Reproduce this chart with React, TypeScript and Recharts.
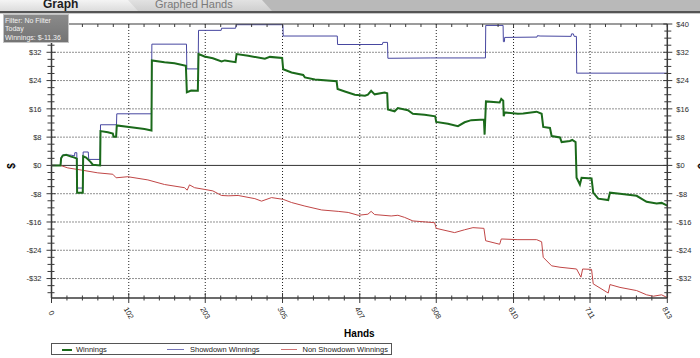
import React from 'react';
import { LineChart, Line, XAxis, YAxis, CartesianGrid, ReferenceLine } from 'recharts';

const FONT = '"Liberation Sans", Arial, Helvetica, sans-serif';

// ---- data (hands, cumulative $) ----
const winningsHands = [0, 11.9, 12.7, 14.9, 19.3, 25.9, 30.4, 33.4, 33.8, 41.3, 41.8, 45.7, 51.5, 54.5, 64.2, 64.7, 74.4, 81, 81.9, 85.3, 86.2, 105, 122.8, 132, 132.5, 149.2, 162.4, 177.4, 178.7, 184.4, 193.2, 194.1, 202, 213, 224.5, 228.9, 243, 244.3, 259.7, 281.7, 288.3, 304.5, 305.9, 316.9, 332.3, 334.5, 347.7, 376.4, 377.7, 387.3, 400.5, 413.8, 417.7, 422, 426.6, 439.8, 443.2, 444.1, 453, 457.3, 470.5, 477.1, 492.6, 506.6, 507.9, 523.4, 536.6, 545.4, 554.2, 570.9, 571.8, 573.6, 591.7, 593.8, 596.4, 597, 598.3, 615.8, 622.8, 640.5, 647.1, 649.2, 658.1, 660.3, 671.3, 673.5, 684.4, 687.5, 691.9, 693.2, 697.6, 699.8, 713, 715.2, 721.8, 735, 737.3, 750.5, 772.5, 785.7, 798.9, 805.5, 813];
const winningsValues = [0, 0, 2.0, 2.8, 3.0, 2.5, 2.2, 1.9, -7.7, -7.7, 2.6, 2.2, 1.0, 0.2, 0, 9.7, 9.4, 9.0, 8.1, 8.1, 11.3, 10.8, 10.3, 9.9, 29.7, 29.2, 28.9, 28.2, 20.7, 21.2, 21.1, 31.5, 30.8, 30.3, 29.4, 29.7, 29.2, 31.5, 31.0, 30.2, 30.7, 30.4, 27.2, 26.3, 25.6, 24.9, 24.3, 23.8, 21.6, 20.9, 20.0, 19.7, 20.0, 21.1, 20.1, 20.6, 20.4, 15.8, 15.3, 16.2, 15.6, 14.6, 14.3, 13.9, 12.3, 11.8, 11.1, 12.2, 12.8, 13.0, 8.7, 18.1, 17.8, 18.8, 18.3, 13.9, 15.0, 14.6, 14.7, 15.2, 14.6, 10.9, 10.6, 8.3, 7.9, 6.6, 6.9, 7.2, 6.6, -3.5, -5.4, -3.5, -3.7, -7.7, -9.4, -9.8, -7.7, -8.0, -8.6, -10.3, -10.8, -10.6, -11.36];

const showdownHands = [0, 11.9, 12.7, 14.9, 25.9, 30.4, 30.8, 33.4, 33.8, 41.3, 41.8, 48.5, 49.2, 64.2, 64.7, 85.8, 86.2, 132, 132.5, 178.2, 178.7, 193.6, 194.1, 224, 224.5, 243, 244, 305.5, 305.9, 377.3, 377.7, 436.8, 437.5, 443.6, 444.1, 500, 572.9, 573.3, 596.2, 596.6, 598, 598.3, 641, 641.5, 645, 686, 686.5, 689, 690, 693, 693.4, 813];
const showdownValues = [0, 0, 2.2, 3.0, 2.9, 2.7, 3.6, 3.6, -6.4, -6.4, 3.8, 3.8, 1.7, 1.7, 11.5, 11.5, 14.6, 14.6, 34.3, 34.3, 27.3, 27.3, 38.2, 38.2, 38.8, 38.8, 39.8, 39.8, 36.6, 36.6, 34.2, 34.2, 34.8, 34.8, 30.3, 30.4, 30.4, 39.6, 39.6, 35.0, 35.0, 36.2, 36.3, 36.7, 36.6, 36.5, 37.2, 37.2, 36.5, 36.5, 26.1, 26.1];

const nonShowdownHands = [0, 11.9, 21.5, 39.1, 61.1, 81, 85.3, 100.8, 127.2, 149.2, 175.6, 179.1, 182.2, 188.9, 202.5, 213, 224.5, 233.2, 246.4, 268.5, 277.3, 290.5, 305.9, 317, 334.5, 356.6, 378.5, 391.7, 404.9, 417.7, 422, 426.6, 448.5, 457.3, 466.2, 477.1, 505.8, 507.9, 532.2, 545.4, 556.4, 570.9, 573.2, 591.7, 593.8, 615.8, 640.5, 647.1, 649.2, 660.3, 671.3, 693.2, 699, 701.2, 713, 715.2, 735, 737.3, 750.5, 772.5, 785.7, 794.5, 805.5, 813];
const nonShowdownValues = [0, 0, -0.7, -1.3, -2.1, -2.5, -3.5, -3.2, -4.1, -5.4, -6.3, -7.0, -5.5, -6.3, -6.8, -7.2, -8.5, -8.6, -8.5, -9.4, -10.1, -9.1, -9.6, -10.5, -11.5, -12.6, -13.0, -13.3, -14.1, -13.8, -13.0, -13.9, -14.3, -14.1, -14.7, -15.7, -16.2, -17.8, -19.0, -18.2, -17.6, -17.8, -21.3, -22.3, -20.8, -21.0, -21.0, -21.6, -26.0, -28.4, -28.8, -29.3, -31.6, -29.3, -29.4, -33.5, -36.1, -33.7, -34.5, -35.4, -36.6, -37.0, -36.6, -37.4];

const xMajorTicks = [0, 102, 203, 305, 407, 508, 610, 711, 813];
const xTickLabels = ['0', '102', '203', '305', '407', '508', '610', '711', '813'];
const yMajorTicks = [-32, -24, -16, -8, 0, 8, 16, 24, 32, 40];
const yTickLabels = ['-$32', '-$24', '-$16', '-$8', '$0', '$8', '$16', '$24', '$32', '$40'];
const yMinorStep = 2;
const yDomain: [number, number] = [-37.5, 40];
const xDomain: [number, number] = [0, 813];

const seriesNames = ['Winnings', 'Showdown Winnings', 'Non Showdown Winnings'];
const seriesColors = ['#1b6a1b', '#4747a0', '#c04646'];

const filterLines = ['Filter: No Filter', 'Today', 'Winnings: $-11.36'];
const tabLabels = ['Graph', 'Graphed Hands'];

// ---- derived ----
const toData = (hs: number[], vs: number[]) => hs.map((h, i) => ({ h, v: vs[i] }));
const winningsData = toData(winningsHands, winningsValues);
const showdownData = toData(showdownHands, showdownValues);
const nonShowdownData = toData(nonShowdownHands, nonShowdownValues);

const xAllTicks: number[] = [];
for (let i = 0; i < xMajorTicks.length - 1; i++) {
  for (let k = 0; k < 5; k++) {
    xAllTicks.push(xMajorTicks[i] + ((xMajorTicks[i + 1] - xMajorTicks[i]) * k) / 5);
  }
}
xAllTicks.push(xMajorTicks[xMajorTicks.length - 1]);

const yAllTicks: number[] = [];
for (let v = -36; v <= 40; v += yMinorStep) yAllTicks.push(v);

const AXIS = '#3a3a3a';
const TXT = '#2a2a2a';

const LeftYTick = (props: any) => {
  const { x, y, payload } = props;
  const idx = yMajorTicks.indexOf(payload.value);
  const major = idx >= 0;
  // the top label on the left side sits under the filter box in the reference
  const showLabel = major && payload.value !== 40;
  return (
    <g>
      <line x1={x - (major ? 5 : 4)} x2={x + (major ? 4 : 3)} y1={y} y2={y} stroke={AXIS} strokeWidth={1} />
      {showLabel && (
        <text x={x - 10} y={y} dy={2.8} textAnchor="end" fontSize={7.5} fill={TXT} fontFamily={FONT}>
          {yTickLabels[idx]}
        </text>
      )}
    </g>
  );
};

const RightYTick = (props: any) => {
  const { x, y, payload } = props;
  const idx = yMajorTicks.indexOf(payload.value);
  const major = idx >= 0;
  return (
    <g>
      <line x1={x - (major ? 4 : 3)} x2={x + (major ? 5 : 4)} y1={y} y2={y} stroke={AXIS} strokeWidth={1} />
      {major && (
        <text x={x + 9} y={y} dy={2.8} textAnchor="start" fontSize={7.5} fill={TXT} fontFamily={FONT}>
          {yTickLabels[idx]}
        </text>
      )}
    </g>
  );
};

const BottomXTick = (props: any) => {
  const { x, y, payload } = props;
  const idx = xMajorTicks.indexOf(payload.value);
  const major = idx >= 0;
  const ty = y + 15;
  return (
    <g>
      <line x1={x} x2={x} y1={y - (major ? 5 : 2.5)} y2={y + (major ? 5 : 2.5)} stroke={AXIS} strokeWidth={1} />
      {major && (
        <text
          x={x}
          y={ty}
          dy={2.6}
          textAnchor="middle"
          fontSize={7.5}
          fill={TXT}
          fontFamily={FONT}
          transform={`rotate(60 ${x} ${ty})`}
        >
          {xTickLabels[idx]}
        </text>
      )}
    </g>
  );
};

const TopXTick = (props: any) => {
  const { x, y } = props;
  return <line x1={x} x2={x} y1={y} y2={y + 3} stroke={AXIS} strokeWidth={1} />;
};

export default function App() {
  return (
    <div
      style={{
        position: 'absolute',
        left: 0,
        top: 0,
        width: 700,
        height: 358,
        overflow: 'hidden',
        background: '#fff',
        fontFamily: FONT,
      }}
    >
      <LineChart width={700} height={358} margin={{ top: 14, right: 0, bottom: 15, left: 0 }}>
        <CartesianGrid
          horizontalValues={yMajorTicks.filter((v) => v !== 0 && v !== 40)}
          verticalValues={xMajorTicks.filter((v) => v !== 0 && v !== 813)}
          stroke="#222"
          strokeDasharray="1 2"
        />
        <XAxis
          type="number"
          dataKey="h"
          domain={xDomain}
          allowDataOverflow
          ticks={xAllTicks}
          interval={0}
          height={45}
          tickSize={0}
          tickMargin={0}
          tickLine={false}
          tick={BottomXTick}
          axisLine={{ stroke: AXIS, strokeWidth: 1.5 }}
          label={{ value: 'Hands', position: 'insideBottom', offset: 6, fontSize: 10, fontWeight: 'bold', fill: '#000', fontFamily: FONT }}
        />
        <XAxis
          xAxisId="top"
          orientation="top"
          type="number"
          dataKey="h"
          domain={xDomain}
          allowDataOverflow
          ticks={xAllTicks}
          interval={0}
          height={10}
          tickSize={0}
          tickMargin={0}
          tickLine={false}
          tick={TopXTick}
          axisLine={{ stroke: AXIS, strokeWidth: 1.2 }}
        />
        <YAxis
          type="number"
          domain={yDomain}
          allowDataOverflow
          ticks={yAllTicks}
          interval={0}
          width={51.5}
          tickSize={0}
          tickMargin={0}
          tickLine={false}
          tick={LeftYTick}
          axisLine={{ stroke: AXIS, strokeWidth: 1.5 }}
        />
        <YAxis
          yAxisId="right"
          orientation="right"
          type="number"
          domain={yDomain}
          allowDataOverflow
          ticks={yAllTicks}
          interval={0}
          width={32.7}
          tickSize={0}
          tickMargin={0}
          tickLine={false}
          tick={RightYTick}
          axisLine={{ stroke: AXIS, strokeWidth: 1.5 }}
        />
        <ReferenceLine y={0} stroke="#333" strokeWidth={1} />
        <Line
          data={nonShowdownData}
          dataKey="v"
          name={seriesNames[2]}
          type="linear"
          stroke={seriesColors[2]}
          strokeWidth={1}
          dot={false}
          isAnimationActive={false}
        />
        <Line
          data={showdownData}
          dataKey="v"
          name={seriesNames[1]}
          type="linear"
          stroke={seriesColors[1]}
          strokeWidth={1}
          dot={false}
          isAnimationActive={false}
        />
        <Line
          data={winningsData}
          dataKey="v"
          name={seriesNames[0]}
          type="linear"
          stroke={seriesColors[0]}
          strokeWidth={2}
          dot={false}
          isAnimationActive={false}
        />
      </LineChart>

      {/* tab bar */}
      <div style={{ position: 'absolute', left: 0, top: 0, width: 700, height: 11, background: '#b9b9b9' }} />
      <div
        style={{
          position: 'absolute',
          left: 0,
          top: 0,
          width: 272,
          height: 11,
          background: 'linear-gradient(#e2e2e2, #cfcfcf)',
          clipPath: 'polygon(0 0, 262px 0, 272px 11px, 0 11px)',
        }}
      />
      <div
        style={{
          position: 'absolute',
          left: 0,
          top: 0,
          width: 140,
          height: 11,
          background: 'linear-gradient(#f4f4f4, #dcdcdc)',
          clipPath: 'polygon(0 0, 128px 0, 138px 11px, 0 11px)',
        }}
      />
      <div style={{ position: 'absolute', left: 0, top: 11, width: 700, height: 2, background: '#555' }} />
      <div style={{ position: 'absolute', left: 0, top: 13, width: 700, height: 1, background: '#c9c9c9' }} />
      <div
        style={{
          position: 'absolute',
          left: 43,
          top: -2,
          fontSize: 12,
          fontWeight: 'bold',
          color: '#1e1e1e',
          lineHeight: '12px',
          whiteSpace: 'nowrap',
        }}
      >
        {tabLabels[0]}
      </div>
      <div
        style={{
          position: 'absolute',
          left: 155,
          top: -2,
          fontSize: 11,
          color: '#7a7a7a',
          lineHeight: '12px',
          whiteSpace: 'nowrap',
        }}
      >
        {tabLabels[1]}
      </div>

      {/* filter box */}
      <div
        style={{
          position: 'absolute',
          left: 3,
          top: 14,
          width: 66,
          height: 29,
          boxSizing: 'border-box',
          border: '1px solid #c4c4c4',
          background: 'linear-gradient(#8a8a8a, #747474)',
          color: '#f2f2f2',
          fontSize: 7,
          lineHeight: '8.3px',
          padding: '2px 0 0 1px',
          whiteSpace: 'nowrap',
        }}
      >
        {filterLines.map((t) => (
          <div key={t}>{t}</div>
        ))}
      </div>

      {/* y axis titles */}
      <div
        style={{
          position: 'absolute',
          left: 6,
          top: 160,
          width: 12,
          height: 12,
          fontSize: 10,
          fontWeight: 'bold',
          textAlign: 'center',
          lineHeight: '12px',
          transform: 'rotate(-90deg)',
          color: '#000',
        }}
      >
        $
      </div>
      <div
        style={{
          position: 'absolute',
          left: 695,
          top: 160,
          width: 12,
          height: 12,
          fontSize: 10,
          fontWeight: 'bold',
          textAlign: 'center',
          lineHeight: '12px',
          transform: 'rotate(90deg)',
          color: '#000',
        }}
      >
        $
      </div>

      {/* legend */}
      <div
        style={{
          position: 'absolute',
          left: 51,
          top: 343,
          width: 341,
          height: 12,
          boxSizing: 'border-box',
          border: '1px solid #555',
          background: '#fff',
          fontSize: 7.5,
          color: '#222',
        }}
      >
        {[
          { line: 10, lineW: 10, text: 24 },
          { line: 115, lineW: 17, text: 138 },
          { line: 229, lineW: 16, text: 250.5 },
        ].map((p, i) => (
          <React.Fragment key={seriesNames[i]}>
            <div
              style={{
                position: 'absolute',
                left: p.line,
                top: 4.5,
                width: p.lineW,
                height: i === 0 ? 2 : 1.5,
                background: seriesColors[i],
                opacity: i === 0 ? 1 : 0.75,
              }}
            />
            <div
              style={{
                position: 'absolute',
                left: p.text,
                top: 0.5,
                lineHeight: '9px',
                whiteSpace: 'nowrap',
                color: '#222',
              }}
            >
              {seriesNames[i]}
            </div>
          </React.Fragment>
        ))}
      </div>
    </div>
  );
}
